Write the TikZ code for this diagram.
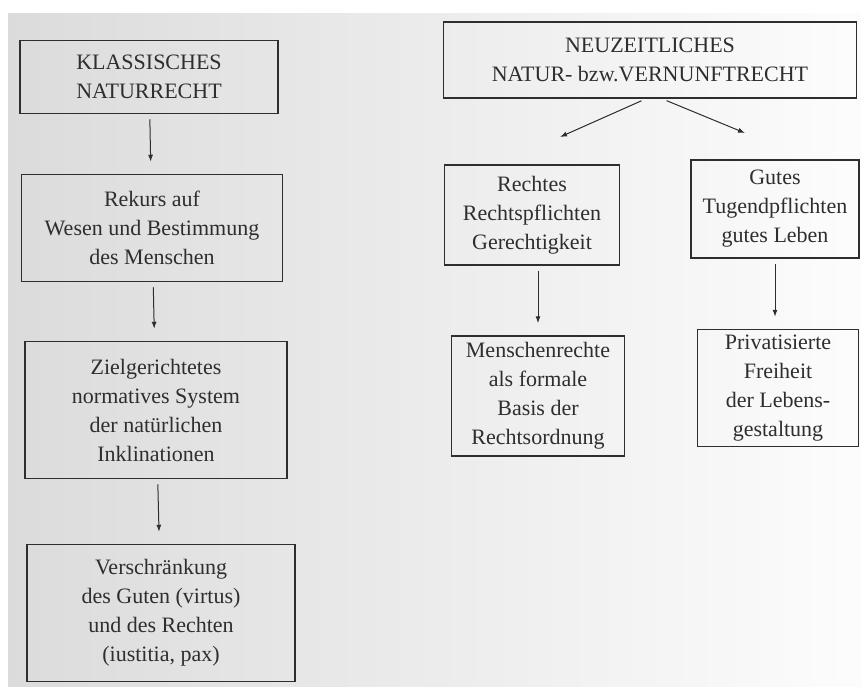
\documentclass[tikz,border=0pt]{standalone}
\usepackage{fontspec}
\setmainfont{Liberation Serif}
\usetikzlibrary{arrows.meta}
\definecolor{tinte}{HTML}{2E2E2E}
\tikzset{
  kasten/.style={draw=tinte, line width=1.5pt, text=tinte, align=center, inner sep=0pt,
    font=\fontsize{22}{29}\selectfont},
  pfeil/.style={-{Latex[length=7pt,width=5pt]}, draw=tinte, line width=1pt, shorten <=5pt, shorten >=12pt}
}
\begin{document}
\begin{tikzpicture}[x=1pt,y=-1pt]
	\useasboundingbox (0,0) rectangle (861,686);
	\fill[white] (0,0) rectangle (861,686);
	\shade[left color=black!14, right color=black!1] (8,13) rectangle (861,686);

	% linke Spalte
	\node[kasten, minimum width=258pt, minimum height=73pt] (klass) at (149,77) {KLASSISCHES\\NATURRECHT};
	\node[kasten, minimum width=261pt, minimum height=107pt] (rekurs) at (152,228) {Rekurs auf\\Wesen und Bestimmung\\des Menschen};
	\node[kasten, minimum width=262pt, minimum height=137pt] (ziel) at (156,410) {Zielgerichtetes\\normatives System\\der natürlichen\\Inklinationen};
	\node[kasten, minimum width=268pt, minimum height=137pt] (versch) at (161,613) {Verschränkung\\des Guten (virtus)\\und des Rechten\\(iustitia, pax)};

	\draw[pfeil] (klass) -- (rekurs);
	\draw[pfeil] (rekurs) -- (ziel);
	\draw[pfeil] (ziel) -- (versch);

	% rechte Spalte
	\node[kasten, minimum width=413pt, minimum height=76pt] (neuz) at (650,60) {NEUZEITLICHES\\NATUR- bzw.VERNUNFTRECHT};
	\node[kasten, minimum width=175pt, minimum height=100pt] (rechtes) at (532,215) {Rechtes\\Rechtspflichten\\Gerechtigkeit};
	\node[kasten, minimum width=168pt, minimum height=98pt] (gutes) at (775,209) {Gutes\\Tugendpflichten\\gutes Leben};
	\node[kasten, minimum width=173pt, minimum height=120pt] (menschen) at (538,396) {Menschenrechte\\als formale\\Basis der\\Rechtsordnung};
	\node[kasten, minimum width=161pt, minimum height=117pt] (privat) at (778,388) {Privatisierte\\Freiheit\\der Lebens-\\gestaltung};

	\coordinate (zielL) at (560,137);
	\coordinate (zielR) at (745,133);
	\draw[pfeil, shorten >=0pt] ([xshift=-4pt]neuz.south) -- (zielL);
	\draw[pfeil, shorten >=0pt] ([xshift=12pt]neuz.south) -- (zielR);
	\draw[pfeil] (rechtes.south -| menschen.north) -- (menschen.north);
	\draw[pfeil] (gutes) -- (gutes |- privat.north);
\end{tikzpicture}
\end{document}
